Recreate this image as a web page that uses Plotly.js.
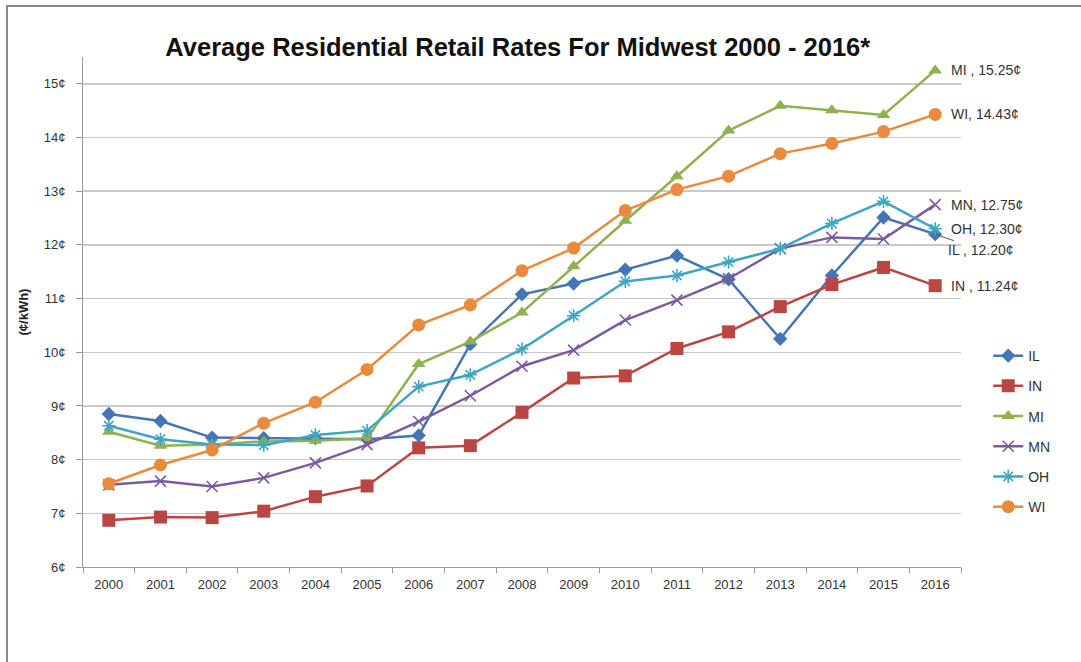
<!DOCTYPE html>
<html>
<head>
<meta charset="utf-8">
<script src="https://cdn.plot.ly/plotly-3.0.1.min.js"></script>
<style>
  html, body { margin: 0; padding: 0; background: #fff; }
  #frame { position: absolute; left: 6px; top: 5px; width: 1090px; height: 680px;
           border-left: 2px solid #8a8a8a; border-top: 2px solid #8a8a8a; }
  #chart { position: absolute; left: 0; top: 0; width: 1081px; height: 662px; }
</style>
</head>
<body>
<div id="frame"></div>
<div id="chart"></div>
<script>
const years = ["2000","2001","2002","2003","2004","2005","2006","2007","2008","2009","2010","2011","2012","2013","2014","2015","2016"];

const IL = [8.85, 8.72, 8.41, 8.40, 8.40, 8.38, 8.45, 10.15, 11.08, 11.28, 11.54, 11.80, 11.36, 10.25, 11.43, 12.51, 12.20];
const IN = [6.87, 6.93, 6.92, 7.04, 7.31, 7.51, 8.22, 8.26, 8.88, 9.52, 9.56, 10.07, 10.38, 10.85, 11.26, 11.58, 11.24];
const MI = [8.52, 8.26, 8.28, 8.34, 8.35, 8.40, 9.78, 10.20, 10.74, 11.60, 12.45, 13.28, 14.13, 14.59, 14.51, 14.42, 15.25];
const MN = [7.53, 7.60, 7.50, 7.66, 7.94, 8.28, 8.71, 9.19, 9.74, 10.04, 10.60, 10.97, 11.37, 11.93, 12.14, 12.11, 12.75];
const OH = [8.63, 8.38, 8.28, 8.27, 8.46, 8.54, 9.36, 9.58, 10.06, 10.68, 11.32, 11.43, 11.68, 11.93, 12.40, 12.81, 12.30];
const WI = [7.55, 7.90, 8.18, 8.68, 9.07, 9.68, 10.51, 10.88, 11.52, 11.94, 12.64, 13.03, 13.28, 13.70, 13.89, 14.11, 14.43];

const seriesNames = ["IL", "IN", "MI", "MN", "OH", "WI"];
const seriesData = [IL, IN, MI, MN, OH, WI];
const endLabels = ["IL , 12.20¢", "IN , 11.24¢", "MI , 15.25¢", "MN, 12.75¢", "OH, 12.30¢", "WI, 14.43¢"];

const colors = ["#4675b5", "#bb4542", "#8fb14f", "#7a5c9e", "#3fa6c2", "#ea8a3c"];
const symbols = ["diamond", "square", "triangle-up", "x-thin-open", "asterisk-open", "circle"];
const sizes = [11, 13, 12, 11, 11, 13];

const traces = seriesNames.map((n, i) => ({
  x: years, y: seriesData[i], name: n, type: "scatter", mode: "lines+markers",
  legendgroup: n,
  line: { color: colors[i], width: 2.5 },
  marker: { symbol: symbols[i], size: sizes[i], color: colors[i],
            line: { color: colors[i], width: (symbols[i].indexOf("open") >= 0) ? 1.6 : 0 } }
}));

const lastIdx = years.length - 1;
const annotations = seriesNames.map((n, i) => {
  const a = {
    x: lastIdx, y: seriesData[i][lastIdx], xref: "x", yref: "y",
    text: endLabels[i], showarrow: false, xanchor: "left", yanchor: "middle",
    xshift: 14, font: { family: "Liberation Sans, Arial, sans-serif", size: 14, color: "#333" }
  };
  if (n === "IL") {
    a.showarrow = true; a.arrowhead = 0; a.arrowwidth = 1; a.arrowcolor = "#555";
    a.ax = 46; a.ay = 16; a.xshift = 0; a.xanchor = "center";
    a.standoff = 2;
  }
  return a;
});

const layout = {
  width: 1081, height: 662,
  paper_bgcolor: "rgba(0,0,0,0)", plot_bgcolor: "rgba(0,0,0,0)",
  margin: { l: 83, r: 120, t: 57, b: 95 },
  font: { family: "Liberation Sans, Arial, sans-serif", color: "#333" },
  title: {
    text: "<b>Average Residential Retail Rates For Midwest 2000 - 2016*</b>",
    font: { family: "Liberation Sans, Arial, sans-serif", size: 25.5, color: "#111" },
    x: 0.479, xref: "container", y: 0.929, yref: "container", yanchor: "middle"
  },
  xaxis: {
    type: "category", tickson: "boundaries", ticks: "outside", ticklen: 5,
    tickcolor: "#999", showline: true, linecolor: "#999", linewidth: 1,
    showgrid: false, zeroline: false, range: [-0.5, 16.5],
    tickfont: { size: 13, color: "#333" }, ticklabelstandoff: 5
  },
  yaxis: {
    range: [6, 15.5], dtick: 1, tick0: 6, ticks: "outside", ticklen: 6,
    tickcolor: "#999", showline: true, linecolor: "#999", linewidth: 1,
    showgrid: true, gridcolor: "#c9c9c9", gridwidth: 1.5, zeroline: false,
    ticksuffix: "¢", tickfont: { size: 13, color: "#333" }, ticklabelstandoff: 8,
    title: { text: "<b>(¢/kWh)</b>", font: { size: 13, color: "#222" }, standoff: 12 }
  },
  legend: {
    x: 1.031, y: 0.445, xanchor: "left", yanchor: "top",
    font: { size: 14, color: "#333" }, traceorder: "grouped", tracegroupgap: 9,
    bgcolor: "rgba(0,0,0,0)", itemwidth: 30
  },
  annotations: annotations,
  showlegend: true
};

Plotly.newPlot("chart", traces, layout, { displayModeBar: false, staticPlot: true });
</script>
</body>
</html>
